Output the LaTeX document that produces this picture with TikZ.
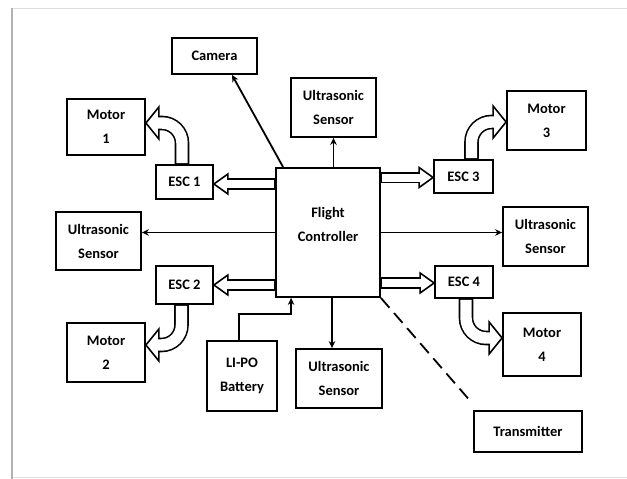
\documentclass[tikz,border=0pt]{standalone}
\usepackage{fontspec}
\setmainfont{Carlito}
\usetikzlibrary{arrows.meta,calc}

\tikzset{
  blk/.style={draw, line width=1.8pt, align=center, inner sep=0pt, font=\fontsize{14.5}{24}\selectfont\bfseries},
  sig/.style={line width=1.8pt, -{Stealth[length=7pt,width=6.5pt]}},
  pipeout/.style={line width=11.2pt, rounded corners=20pt},
  pipein/.style={line width=8pt, draw=white, rounded corners=20pt, shorten <=1pt, shorten >=-1.5pt},
  fatout/.style={line width=14.6pt, rounded corners=20pt},
  fatin/.style={line width=11.4pt, draw=white, rounded corners=20pt, shorten <=1pt, shorten >=-1.5pt},
  head/.style={draw, fill=white, line width=1.6pt},
}

\begin{document}
\begin{tikzpicture}[x=1pt,y=1pt,yscale=-1]
\useasboundingbox (0,0) rectangle (627,479);

% frame
\draw [gray!25, line width=1pt] (12,8) -- (627,8);
\draw [gray!25, line width=1pt] (12,477) -- (627,477);
\draw [gray!60, line width=1.6pt] (12,8) -- (12,479);

% blocks
\node [blk, minimum width=104pt, minimum height=129pt] (fc) at (328,232.5) {};
\node [font=\fontsize{14.5}{24}\selectfont\bfseries, align=center, inner sep=0pt] (fcl) at ($(fc)+(0,-8)$) {Flight\\Controller};
\node [blk, minimum width=85pt, minimum height=36pt] (cam) at (214.5,56) {Camera};
\node [blk, minimum width=85pt, minimum height=59pt] (ust) at (333.5,107.5) {Ultrasonic\\Sensor};
\node [blk, minimum width=78pt, minimum height=56pt] (m1) at (106,127) {Motor\\1};
\node [blk, minimum width=79pt, minimum height=59pt] (m3) at (546.5,120.5) {Motor\\3};
\node [blk, minimum width=57pt, minimum height=34pt] (esc1) at (184.5,182) {ESC 1};
\node [blk, minimum width=59pt, minimum height=33pt] (esc3) at (463.5,176.5) {ESC 3};
\node [blk, minimum width=85pt, minimum height=58pt] (usl) at (98.5,241) {Ultrasonic\\Sensor};
\node [blk, minimum width=85pt, minimum height=59pt] (usr) at (545.5,236.5) {Ultrasonic\\Sensor};
\node [blk, minimum width=57pt, minimum height=38pt] (esc2) at (184.5,285) {ESC 2};
\node [blk, minimum width=58pt, minimum height=32pt] (esc4) at (464,282) {ESC 4};
\node [blk, minimum width=78pt, minimum height=59pt] (m2) at (106,352.5) {Motor\\2};
\node [blk, minimum width=78pt, minimum height=63pt] (m4) at (542,344.5) {Motor\\4};
\node [blk, minimum width=70pt, minimum height=70pt] (bat) at (242,376) {LI-PO\\Battery};
\node [blk, minimum width=86pt, minimum height=59pt] (usb) at (339,378.5) {Ultrasonic\\Sensor};
\node [blk, minimum width=108pt, minimum height=41pt] (tx) at (528,431.5) {Transmitter};

% signal lines
\draw [sig] ($(fc.north west)+(8,0)$) -- ($(cam.south)+(17.5,0)$);
\draw [sig] (fc.north -| ust.south) -- (ust.south);
\draw [sig] (fc.west) -- (fc.west -| usl.east);
\draw [sig] (fc.east) -- (fc.east -| usr.west);
\draw [sig] ($(fc.south)+(4,0)$) coordinate (b1) -- (b1 |- usb.north);
\draw [sig] ($(bat.north)+(-3,0)$) |- ($(fc.south west)+(16,16)$) -- ($(fc.south west)+(16,0)$);
\draw [line width=1.8pt, dash pattern=on 13pt off 7pt] (fc.south east) -- ($(tx.north west)+(-1,-7)$);

% hollow arrows, controller to ESCs
\coordinate (t1) at ($(esc1.east)+(0,2)$);
\draw [head] (t1) -- ++(14,-10) -- ++(0,20) -- cycle;
\draw [pipeout] (fc.west |- t1) -- ($(t1)+(14,0)$);
\draw [pipein] (fc.west |- t1) -- ($(t1)+(14,0)$);

\coordinate (t2) at (esc2.east);
\draw [head] (t2) -- ++(14,-10) -- ++(0,20) -- cycle;
\draw [pipeout] (fc.west |- t2) -- ($(t2)+(14,0)$);
\draw [pipein] (fc.west |- t2) -- ($(t2)+(14,0)$);

\coordinate (t3) at ($(esc3.west)+(0,1)$);
\draw [head] (t3) -- ++(-14,-10) -- ++(0,20) -- cycle;
\draw [pipeout] (fc.east |- t3) -- ($(t3)+(-14,0)$);
\draw [pipein] (fc.east |- t3) -- ($(t3)+(-14,0)$);

\coordinate (t4) at ($(esc4.west)+(0,1)$);
\draw [head] (t4) -- ++(-14,-10) -- ++(0,20) -- cycle;
\draw [pipeout] (fc.east |- t4) -- ($(t4)+(-14,0)$);
\draw [pipein] (fc.east |- t4) -- ($(t4)+(-14,0)$);

% hollow arrows, ESCs to motors
\coordinate (k1) at ($(m1.east)+(0,-4)$);
\draw [head] (k1) -- ++(13,-16) -- ++(0,32) -- cycle;
\draw [fatout] ($(esc1.north)+(-2.5,0)$) |- ($(k1)+(13,0)$);
\draw [fatin] ($(esc1.north)+(-2.5,0)$) |- ($(k1)+(13,0)$);

\coordinate (k3) at ($(m3.west)+(0,1.5)$);
\draw [head] (k3) -- ++(-13,-16) -- ++(0,32) -- cycle;
\draw [fatout] ($(esc3.north)+(8,0)$) |- ($(k3)+(-13,0)$);
\draw [fatin] ($(esc3.north)+(8,0)$) |- ($(k3)+(-13,0)$);

\coordinate (k2) at ($(m2.east)+(0,-7.5)$);
\draw [head] (k2) -- ++(13,-16) -- ++(0,32) -- cycle;
\draw [fatout] ($(esc2.south)+(-3,0)$) |- ($(k2)+(13,0)$);
\draw [fatin] ($(esc2.south)+(-3,0)$) |- ($(k2)+(13,0)$);

\coordinate (k4) at ($(m4.west)+(0,-6.5)$);
\draw [head] (k4) -- ++(-13,-16) -- ++(0,32) -- cycle;
\draw [fatout] ($(esc4.south)+(2,0)$) |- ($(k4)+(-13,0)$);
\draw [fatin] ($(esc4.south)+(2,0)$) |- ($(k4)+(-13,0)$);

\end{tikzpicture}
\end{document}
